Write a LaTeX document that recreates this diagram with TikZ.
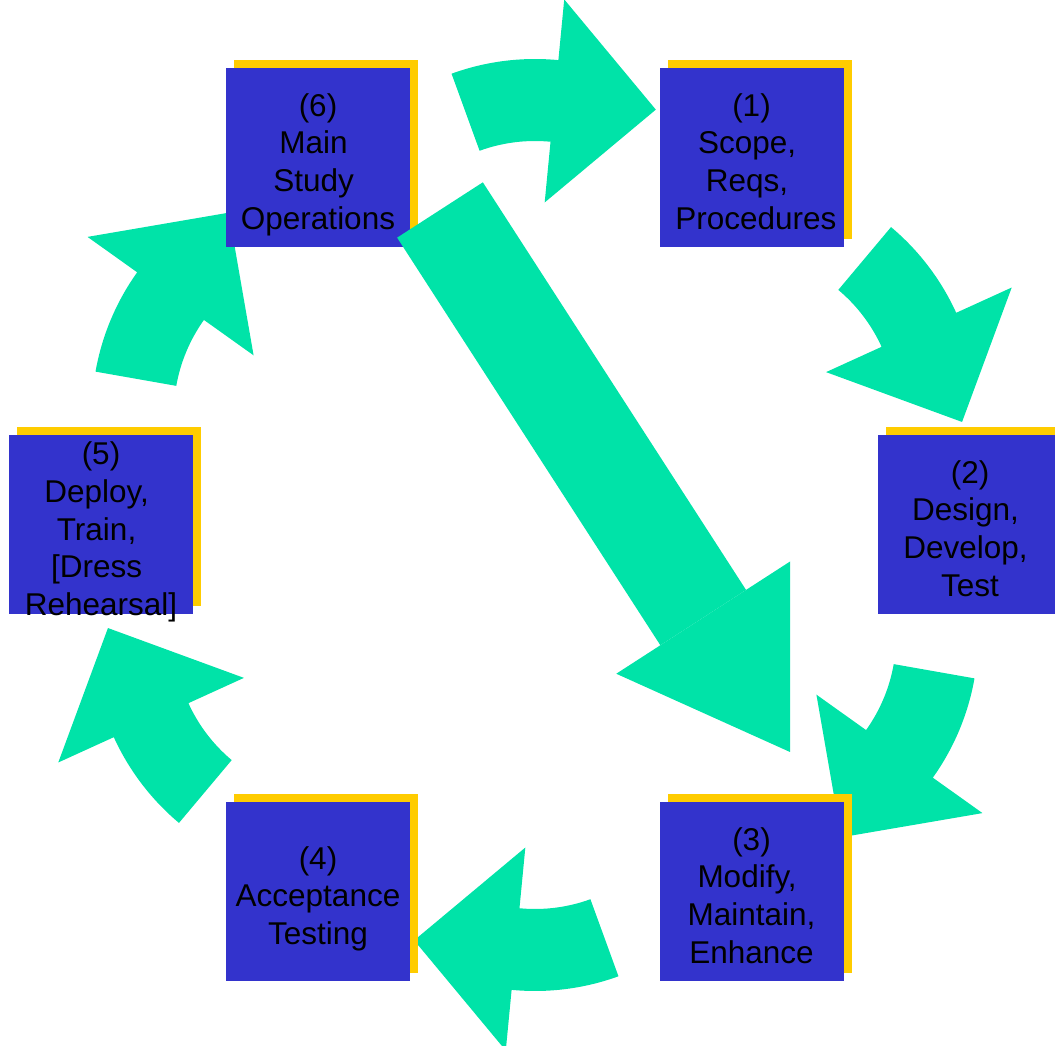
\documentclass[tikz,border=0pt]{standalone}
\usepackage{fontspec}
\setmainfont{Liberation Sans}
\usetikzlibrary{arrows.meta,shadows}
\definecolor{stageblue}{RGB}{51,51,204}
\definecolor{stageyellow}{RGB}{255,204,0}
\definecolor{flowgreen}{RGB}{0,227,168}
\newcommand{\tsp}{\rule{.28em}{0pt}}

\begin{document}
\begin{tikzpicture}[x=1pt,y=1pt,
  stage/.style={fill=stageblue,minimum width=184,minimum height=179,inner sep=0pt,
    general shadow={fill=stageyellow,shadow xshift=8pt,shadow yshift=8pt}},
  stagetext/.style={align=center,inner sep=0pt,yshift=-9.5pt,
    font=\fontsize{31.5}{37.7}\selectfont,
    execute at begin node=\strut,execute at end node=\strut},
  flow/.style={fill=flowgreen}]
\useasboundingbox (0,0) rectangle (1055,1045);
% curved arrows round the cycle
\foreach \a in {90,30,-30,-90,-150,150}
  \fill[flow,shift={({535+230*cos(\a)},{520+222*sin(\a)})},rotate=\a]
    (20:244) arc[start angle=20,end angle=-5.5,radius=244] -- (-5.5:305) -- (-32:228)
    -- (-5.5:101) -- (-5.5:162) arc[start angle=-5.5,end angle=20,radius=162] -- cycle;
% the six stages
\node[stage] (s1) at (751.5,887.5) {};
\node[stage] (s2) at (970,520.5) {};
\node[stage] (s3) at (751.5,153.5) {};
\node[stage] (s4) at (318,153.5) {};
\node[stage] (s5) at (101,520) {};
\node[stage] (s6) at (318,887.5) {};
\node[stagetext] at (s1) {(1)\\Scope,\tsp\\Reqs,\tsp\\\tsp Procedures};
\node[stagetext] at (s2) {(2)\\Design,\tsp\\Develop,\tsp\\Test};
\node[stagetext] at (s3) {(3)\\Modify,\tsp\\Maintain,\\Enhance};
\node[stagetext] at (s4) {(4)\\Acceptance\\Testing};
\node[stagetext] at (s5) {(5)\\Deploy,\tsp\\Train,\tsp\\{[}Dress\tsp\\Rehearsal]};
\node[stagetext] at (s6) {(6)\\Main\tsp\\Study\tsp\\Operations};
% shortcut from main study back to modify
\coordinate (bigtail) at (440,835);
\coordinate (bigtip) at (790,293);
\draw[flowgreen,line width=102pt,-{Triangle[length=160pt,width=207pt,line width=0pt]}] (bigtail) -- (bigtip);
\end{tikzpicture}
\end{document}
